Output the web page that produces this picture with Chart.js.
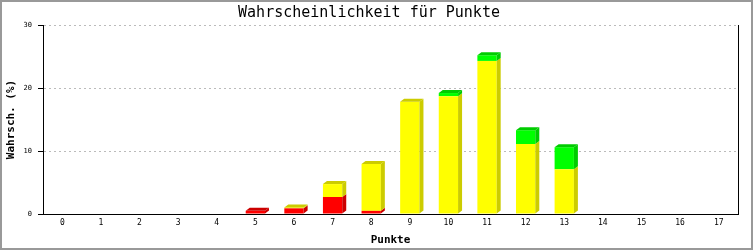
<!DOCTYPE html>
<html>
<head>
<meta charset="utf-8">
<script src="https://cdn.jsdelivr.net/npm/chart.js@4/dist/chart.umd.min.js"></script>
<style>
  html, body { margin: 0; padding: 0; background: #fff; }
  #wrap { width: 753px; height: 250px; position: relative; }
</style>
</head>
<body>
<div id="wrap"><canvas id="c" width="753" height="250"></canvas></div>
<script>
const categories = ['0','1','2','3','4','5','6','7','8','9','10','11','12','13','14','15','16','17'];
const redValues    = [0,0,0,0,0,0.5,0.9,2.7,0.5,0,0,0,0,0,0,0,0,0];
const yellowValues = [0,0,0,0,0,0,0.15,2.05,7.45,17.8,18.7,24.3,11.1,7.1,0,0,0,0];
const greenValues  = [0,0,0,0,0,0,0,0,0,0,0.5,0.9,2.2,3.5,0,0,0,0];
const yTicks = [0,10,20,30];

const sideColors = ['#CC0000', '#CCCC00', '#00CC00'];

const frame = {
  id: 'frame',
  afterDraw(chart) {
    const ctx = chart.ctx;
    ctx.save();
    ctx.strokeStyle = '#999999';
    ctx.lineWidth = 2;
    ctx.strokeRect(1, 1, chart.width - 2, chart.height - 2);
    ctx.restore();
  }
};

const rightBorder = {
  id: 'rightBorder',
  afterDatasetsDraw(chart) {
    const {ctx, chartArea} = chart;
    ctx.save();
    ctx.strokeStyle = '#000';
    ctx.lineWidth = 1;
    ctx.setLineDash([]);
    ctx.beginPath();
    const x = Math.round(chartArea.right) + 0.5;
    ctx.moveTo(x, chartArea.top);
    ctx.lineTo(x, chartArea.bottom);
    ctx.stroke();
    ctx.restore();
  }
};

const bars3d = {
  id: 'bars3d',
  afterDatasetsDraw(chart) {
    const ctx = chart.ctx;
    const dx = 4, dy = 3;
    const n = chart.data.labels.length;
    const dsCount = chart.data.datasets.length;
    ctx.save();
    for (let i = 0; i < n; i++) {
      let topDs = -1;
      for (let d = 0; d < dsCount; d++) {
        if (chart.data.datasets[d].data[i] > 0) topDs = d;
      }
      for (let d = 0; d < dsCount; d++) {
        const v = chart.data.datasets[d].data[i];
        if (!(v > 0)) continue;
        const el = chart.getDatasetMeta(d).data[i];
        const x1 = el.x - el.width / 2, x2 = el.x + el.width / 2;
        const yTop = el.y, yBot = el.base;
        ctx.fillStyle = sideColors[d];
        ctx.beginPath();
        ctx.moveTo(x2, yBot);
        ctx.lineTo(x2 + dx, yBot - dy);
        ctx.lineTo(x2 + dx, yTop - dy);
        ctx.lineTo(x2, yTop);
        ctx.closePath();
        ctx.fill();
        if (d === topDs) {
          ctx.beginPath();
          ctx.moveTo(x1, yTop);
          ctx.lineTo(x1 + dx, yTop - dy);
          ctx.lineTo(x2 + dx, yTop - dy);
          ctx.lineTo(x2, yTop);
          ctx.closePath();
          ctx.fill();
        }
      }
    }
    ctx.restore();
  }
};

new Chart(document.getElementById('c'), {
  type: 'bar',
  data: {
    labels: categories,
    datasets: [
      { label: 'rot', data: redValues, backgroundColor: '#FF0000', borderWidth: 0, stack: 's' },
      { label: 'gelb', data: yellowValues, backgroundColor: '#FFFF00', borderWidth: 0, stack: 's' },
      { label: 'grün', data: greenValues, backgroundColor: '#00FF00', borderWidth: 0, stack: 's' }
    ]
  },
  options: {
    responsive: false,
    animation: false,
    devicePixelRatio: 1,
    layout: { padding: { left: 0, right: 15, top: 0, bottom: 0 } },
    datasets: { bar: { barPercentage: 0.5, categoryPercentage: 1.0 } },
    plugins: {
      legend: { display: false },
      tooltip: { enabled: false },
      title: {
        display: true,
        text: 'Wahrscheinlichkeit für Punkte',
        color: '#000',
        font: { family: 'DejaVu Sans Mono', size: 15, weight: 'normal', lineHeight: 1.2 },
        padding: { top: 4, bottom: 3 }
      }
    },
    scales: {
      x: {
        stacked: true,
        offset: true,
        grid: { display: true, drawOnChartArea: false, drawTicks: false },
        border: { display: true, color: '#000', width: 1 },
        ticks: {
          color: '#000',
          padding: 4,
          maxRotation: 0,
          autoSkip: false,
          font: { family: 'DejaVu Sans Mono', size: 8, lineHeight: 1.2 }
        },
        title: {
          display: true,
          text: 'Punkte',
          color: '#000',
          font: { family: 'DejaVu Sans Mono', size: 11, weight: 'bold', lineHeight: 1.2 },
          padding: { top: 0, bottom: 3 }
        },
        afterFit(scale) { scale.height = 36; }
      },
      y: {
        stacked: true,
        min: 0,
        max: 30,
        afterBuildTicks(scale) { scale.ticks = yTicks.map(v => ({ value: v })); },
        grid: {
          color: (c) => (c.tick && c.tick.value === 0) ? 'rgba(0,0,0,0)' : '#BBBBBB',
          tickColor: '#000',
          tickLength: 5,
          tickBorderDash: [],
          drawTicks: true
        },
        border: { display: true, color: '#000', width: 1, dash: [2, 3] },
        ticks: {
          color: '#000',
          padding: 6,
          font: { family: 'DejaVu Sans Mono', size: 7, lineHeight: 1.2 }
        },
        title: {
          display: true,
          text: 'Wahrsch. (%)',
          color: '#000',
          font: { family: 'DejaVu Sans Mono', size: 11, weight: 'bold', lineHeight: 1.2 },
          padding: { top: 5, bottom: 0 }
        },
        afterFit(scale) { scale.width = 43; }
      }
    }
  },
  plugins: [bars3d, rightBorder, frame]
});
</script>
</body>
</html>
